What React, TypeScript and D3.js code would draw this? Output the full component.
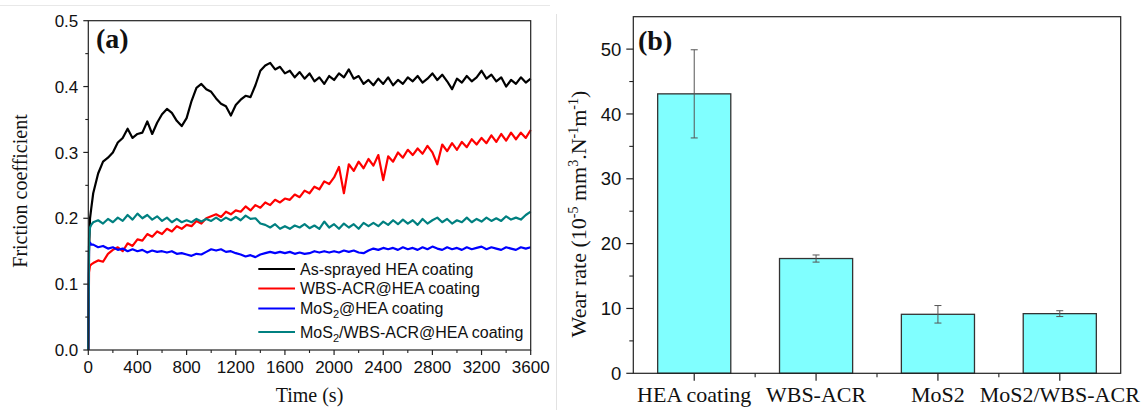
import React from "react";
import * as d3 from "d3";

// ---------- Panel (a): friction coefficient vs time ----------
const TIME = [0, 6, 14, 24, ...d3.range(40, 3601, 40)];

const AS_SPRAYED = [
  0.0, 0.15, 0.2, 0.215,
  0.238, 0.268, 0.286, 0.292, 0.3, 0.315, 0.322, 0.336, 0.322, 0.328,
  0.33, 0.347, 0.328, 0.345, 0.358, 0.366, 0.36, 0.348, 0.34, 0.352,
  0.378, 0.398, 0.404, 0.396, 0.392, 0.382, 0.374, 0.37, 0.356, 0.372,
  0.38, 0.386, 0.384, 0.402, 0.424, 0.432, 0.436, 0.426, 0.43, 0.42,
  0.424, 0.414, 0.422, 0.412, 0.42, 0.408, 0.414, 0.404, 0.416, 0.41,
  0.42, 0.414, 0.426, 0.412, 0.416, 0.404, 0.41, 0.402, 0.412, 0.404,
  0.414, 0.402, 0.41, 0.404, 0.414, 0.408, 0.416, 0.406, 0.412, 0.42,
  0.41, 0.418, 0.408, 0.396, 0.412, 0.406, 0.416, 0.408, 0.414, 0.424,
  0.412, 0.418, 0.408, 0.414, 0.4, 0.41, 0.404, 0.414, 0.406, 0.412,
];

const WBS_ACR = [
  0.0, 0.118, 0.128, 0.13,
  0.132, 0.136, 0.134, 0.146, 0.152, 0.156, 0.15, 0.162, 0.158, 0.168,
  0.166, 0.176, 0.172, 0.18, 0.176, 0.184, 0.18, 0.188, 0.184, 0.19,
  0.188, 0.196, 0.192, 0.2, 0.203, 0.206, 0.202, 0.21, 0.206, 0.212,
  0.21, 0.218, 0.212, 0.22, 0.216, 0.224, 0.22, 0.228, 0.224, 0.23,
  0.228, 0.236, 0.232, 0.242, 0.238, 0.248, 0.244, 0.256, 0.252, 0.262,
  0.278, 0.238, 0.282, 0.272, 0.286, 0.276, 0.29, 0.28, 0.296, 0.258,
  0.294, 0.286, 0.3, 0.292, 0.304, 0.296, 0.306, 0.298, 0.31, 0.3,
  0.282, 0.312, 0.302, 0.314, 0.304, 0.316, 0.308, 0.32, 0.312, 0.322,
  0.314, 0.326, 0.316, 0.328, 0.318, 0.33, 0.32, 0.33, 0.322, 0.334,
];

const MOS2_HEA = [
  0.0, 0.158, 0.163, 0.16,
  0.16, 0.156, 0.158, 0.154, 0.156, 0.152, 0.154, 0.15, 0.153, 0.15,
  0.152, 0.148, 0.151, 0.149, 0.15, 0.148, 0.15, 0.146, 0.147, 0.145,
  0.143, 0.146, 0.145, 0.149, 0.153, 0.151, 0.153, 0.149, 0.15, 0.147,
  0.145, 0.142, 0.144, 0.141, 0.145, 0.147, 0.149, 0.147, 0.149, 0.147,
  0.149, 0.146, 0.148, 0.146, 0.147, 0.15, 0.148, 0.15, 0.148, 0.15,
  0.148, 0.151, 0.149, 0.151, 0.148, 0.147, 0.151, 0.154, 0.152, 0.155,
  0.153, 0.155, 0.152, 0.156, 0.153, 0.155, 0.152, 0.156, 0.153, 0.157,
  0.154, 0.152, 0.156, 0.153, 0.155, 0.152, 0.156, 0.153, 0.155, 0.157,
  0.153, 0.156, 0.154, 0.152, 0.156, 0.154, 0.152, 0.156, 0.154, 0.156,
];

const MOS2_WBS_HEA = [
  0.0, 0.17, 0.186, 0.19,
  0.194, 0.197, 0.192, 0.199, 0.194, 0.201, 0.196, 0.205, 0.198, 0.207,
  0.2, 0.205, 0.198, 0.203, 0.196, 0.201, 0.194, 0.199, 0.194, 0.197,
  0.194, 0.199, 0.195, 0.199, 0.196, 0.201, 0.196, 0.201, 0.197, 0.202,
  0.197, 0.204, 0.199, 0.2, 0.192, 0.19, 0.186, 0.191, 0.184, 0.188,
  0.184, 0.189, 0.186, 0.191, 0.185, 0.189, 0.184, 0.195, 0.186, 0.191,
  0.184, 0.192, 0.186, 0.191, 0.184, 0.193, 0.188, 0.193, 0.188, 0.195,
  0.19, 0.197, 0.191, 0.198, 0.192, 0.197, 0.19, 0.199, 0.192, 0.197,
  0.201, 0.194, 0.199, 0.192, 0.197, 0.194, 0.201, 0.194, 0.199, 0.195,
  0.201, 0.196, 0.2, 0.196, 0.203, 0.198, 0.201, 0.198, 0.205, 0.21,
];

const SERIES_VALUES = [AS_SPRAYED, WBS_ACR, MOS2_HEA, MOS2_WBS_HEA];
const SERIES_COLORS = ["#000000", "#ff0000", "#0000ff", "#008080"];
// legend names: [main, subscript, rest]
const SERIES_NAMES: [string, string, string][] = [
  ["As-sprayed HEA coating", "", ""],
  ["WBS-ACR@HEA coating", "", ""],
  ["MoS", "2", "@HEA coating"],
  ["MoS", "2", "/WBS-ACR@HEA coating"],
];

const A_Y_TICKS = [0, 0.1, 0.2, 0.3, 0.4, 0.5];
const A_Y_MINOR = [0.05, 0.15, 0.25, 0.35, 0.45];
const A_X_TICKS = [0, 400, 800, 1200, 1600, 2000, 2400, 2800, 3200, 3600];
const A_X_MINOR = [200, 600, 1000, 1400, 1800, 2200, 2600, 3000, 3400];

// ---------- Panel (b): wear rate ----------
const CATEGORIES = ["HEA coating", "WBS-ACR", "MoS2", "MoS2/WBS-ACR"];
const WEAR_RATE = [43.1, 17.7, 9.1, 9.2];
const WEAR_ERR = [6.8, 0.55, 1.35, 0.45];
const B_Y_TICKS = [0, 10, 20, 30, 40, 50];
const B_Y_MINOR = [5, 15, 25, 35, 45];

const SANS = "'Liberation Sans', Arial, sans-serif";
const SERIF = "'Liberation Serif', 'Times New Roman', serif";
const AXIS = "#222";

export default function App() {
  // scales panel a
  const xa = d3.scaleLinear().domain([0, 3600]).range([88.3, 530.7]);
  const ya = d3.scaleLinear().domain([0, 0.5]).range([350, 20.7]);
  const line = d3
    .line<number>()
    .x((_, i) => xa(TIME[i]))
    .y((d) => ya(d));

  // scales panel b
  const xb = d3
    .scaleBand<string>()
    .domain(CATEGORIES)
    .range([633.3, 1120.7])
    .paddingInner(0.4)
    .paddingOuter(0.2);
  const yb = d3.scaleLinear().domain([0, 55]).range([373.3, 16.7]);
  const step = xb.step();
  const bandStart = 633.3;
  const bMinor = CATEGORIES.slice(1).map((_, i) => bandStart + step * (i + 1));

  const [a0, a1] = xa.range();
  const [ay0, ay1] = ya.range();
  const [b0, b1] = xb.range();
  const [by0, by1] = yb.range();

  const legendY = [269, 288.5, 308.5, 332];

  return (
    <div style={{ position: "absolute", left: 0, top: 0 }}>
      <svg width={1145} height={410} style={{ display: "block", background: "#fff" }}>
        {/* faint frame lines */}
        <line x1={0} x2={550} y1={5.5} y2={5.5} stroke="#e8e8e8" strokeWidth={1} />
        <line x1={556.5} x2={556.5} y1={14} y2={410} stroke="#e2e2e2" strokeWidth={1} />

        {/* ===== Panel (a) ===== */}
        <g>
          {SERIES_VALUES.map((vals, si) => (
            <path
              key={si}
              d={line(vals) || ""}
              fill="none"
              stroke={SERIES_COLORS[si]}
              strokeWidth={2.2}
              strokeLinejoin="round"
            />
          ))}
          <rect
            x={a0}
            y={ay1}
            width={a1 - a0}
            height={ay0 - ay1}
            fill="none"
            stroke={AXIS}
            strokeWidth={1.2}
          />
          {/* y ticks */}
          {A_Y_TICKS.map((t) => (
            <g key={"ay" + t}>
              <line x1={a0 - 5} x2={a0} y1={ya(t)} y2={ya(t)} stroke={AXIS} strokeWidth={1.2} />
              <text
                x={a0 - 10}
                y={ya(t)}
                dy="0.36em"
                textAnchor="end"
                fontFamily={SANS}
                fontSize={17}
                fill="#111"
              >
                {d3.format(".1f")(t)}
              </text>
            </g>
          ))}
          {A_Y_MINOR.map((t) => (
            <line key={"aym" + t} x1={a0 - 3} x2={a0} y1={ya(t)} y2={ya(t)} stroke={AXIS} strokeWidth={1.1} />
          ))}
          {/* x ticks */}
          {A_X_TICKS.map((t) => (
            <g key={"ax" + t}>
              <line x1={xa(t)} x2={xa(t)} y1={ay0} y2={ay0 + 5} stroke={AXIS} strokeWidth={1.2} />
              <text
                x={xa(t)}
                y={372.5}
                textAnchor="middle"
                fontFamily={SANS}
                fontSize={17}
                fill="#111"
              >
                {t}
              </text>
            </g>
          ))}
          {A_X_MINOR.map((t) => (
            <line key={"axm" + t} x1={xa(t)} x2={xa(t)} y1={ay0} y2={ay0 + 3} stroke={AXIS} strokeWidth={1.1} />
          ))}
          {/* axis titles */}
          <text
            transform="translate(27,191) rotate(-90)"
            textAnchor="middle"
            fontFamily={SERIF}
            fontSize={20}
            fill="#111"
          >
            Friction coefficient
          </text>
          <text x={(a0 + a1) / 2} y={402} textAnchor="middle" fontFamily={SERIF} fontSize={20} fill="#111">
            Time (s)
          </text>
          <text x={96} y={48} fontFamily={SERIF} fontSize={28} fontWeight="bold" fill="#111">
            (a)
          </text>
          {/* legend */}
          {SERIES_NAMES.map((nm, i) => (
            <g key={"lg" + i}>
              <line
                x1={258.3}
                x2={295}
                y1={legendY[i]}
                y2={legendY[i]}
                stroke={SERIES_COLORS[i]}
                strokeWidth={1.8}
              />
              <text x={300} y={legendY[i] + 5.6} fontFamily={SANS} fontSize={16} fill="#111">
                {nm[0]}
                {nm[1] ? (
                  <tspan dy={4} fontSize={11}>
                    {nm[1]}
                  </tspan>
                ) : null}
                {nm[2] ? <tspan dy={nm[1] ? -4 : 0}>{nm[2]}</tspan> : null}
              </text>
            </g>
          ))}
        </g>

        {/* ===== Panel (b) ===== */}
        <g>
          {CATEGORIES.map((c, i) => (
            <rect
              key={"bar" + c}
              x={xb(c)}
              y={yb(WEAR_RATE[i])}
              width={xb.bandwidth()}
              height={yb(0) - yb(WEAR_RATE[i])}
              fill="#80ffff"
              stroke="#333"
              strokeWidth={1.3}
            />
          ))}
          {CATEGORIES.map((c, i) => {
            const cx = (xb(c) as number) + xb.bandwidth() / 2;
            const top = yb(WEAR_RATE[i] + WEAR_ERR[i]);
            const bot = yb(WEAR_RATE[i] - WEAR_ERR[i]);
            return (
              <g key={"err" + c} stroke="#555" strokeWidth={1}>
                <line x1={cx} x2={cx} y1={top} y2={bot} />
                <line x1={cx - 3.5} x2={cx + 3.5} y1={top} y2={top} />
                <line x1={cx - 3.5} x2={cx + 3.5} y1={bot} y2={bot} />
              </g>
            );
          })}
          <rect
            x={b0}
            y={by1}
            width={b1 - b0}
            height={by0 - by1}
            fill="none"
            stroke={AXIS}
            strokeWidth={1.2}
          />
          {B_Y_TICKS.map((t) => (
            <g key={"by" + t}>
              <line x1={b0 - 7} x2={b0} y1={yb(t)} y2={yb(t)} stroke={AXIS} strokeWidth={1.2} />
              <text
                x={b0 - 12}
                y={yb(t)}
                dy="0.36em"
                textAnchor="end"
                fontFamily={SANS}
                fontSize={18.5}
                fill="#111"
              >
                {t}
              </text>
            </g>
          ))}
          {B_Y_MINOR.map((t) => (
            <line key={"bym" + t} x1={b0 - 4} x2={b0} y1={yb(t)} y2={yb(t)} stroke={AXIS} strokeWidth={1.1} />
          ))}
          {CATEGORIES.map((c) => {
            const cx = (xb(c) as number) + xb.bandwidth() / 2;
            return (
              <g key={"bx" + c}>
                <line x1={cx} x2={cx} y1={by0} y2={by0 + 7.5} stroke={AXIS} strokeWidth={1.2} />
                <text x={cx} y={401.7} textAnchor="middle" fontFamily={SERIF} fontSize={22} fill="#111">
                  {c}
                </text>
              </g>
            );
          })}
          {bMinor.map((x, i) => (
            <line key={"bxm" + i} x1={x} x2={x} y1={by0} y2={by0 + 4} stroke={AXIS} strokeWidth={1.1} />
          ))}
          <text
            transform="translate(585.5,214) rotate(-90)"
            textAnchor="middle"
            fontFamily={SERIF}
            fontSize={22}
            fill="#111"
          >
            Wear rate (10
            <tspan dy={-8} fontSize={14}>-5</tspan>
            <tspan dy={8}> mm</tspan>
            <tspan dy={-8} fontSize={14}>3</tspan>
            <tspan dy={8}>.N</tspan>
            <tspan dy={-8} fontSize={14}>-1</tspan>
            <tspan dy={8}>m</tspan>
            <tspan dy={-8} fontSize={14}>-1</tspan>
            <tspan dy={8}>)</tspan>
          </text>
          <text x={638} y={50} fontFamily={SERIF} fontSize={28} fontWeight="bold" fill="#111">
            (b)
          </text>
        </g>
      </svg>
    </div>
  );
}
